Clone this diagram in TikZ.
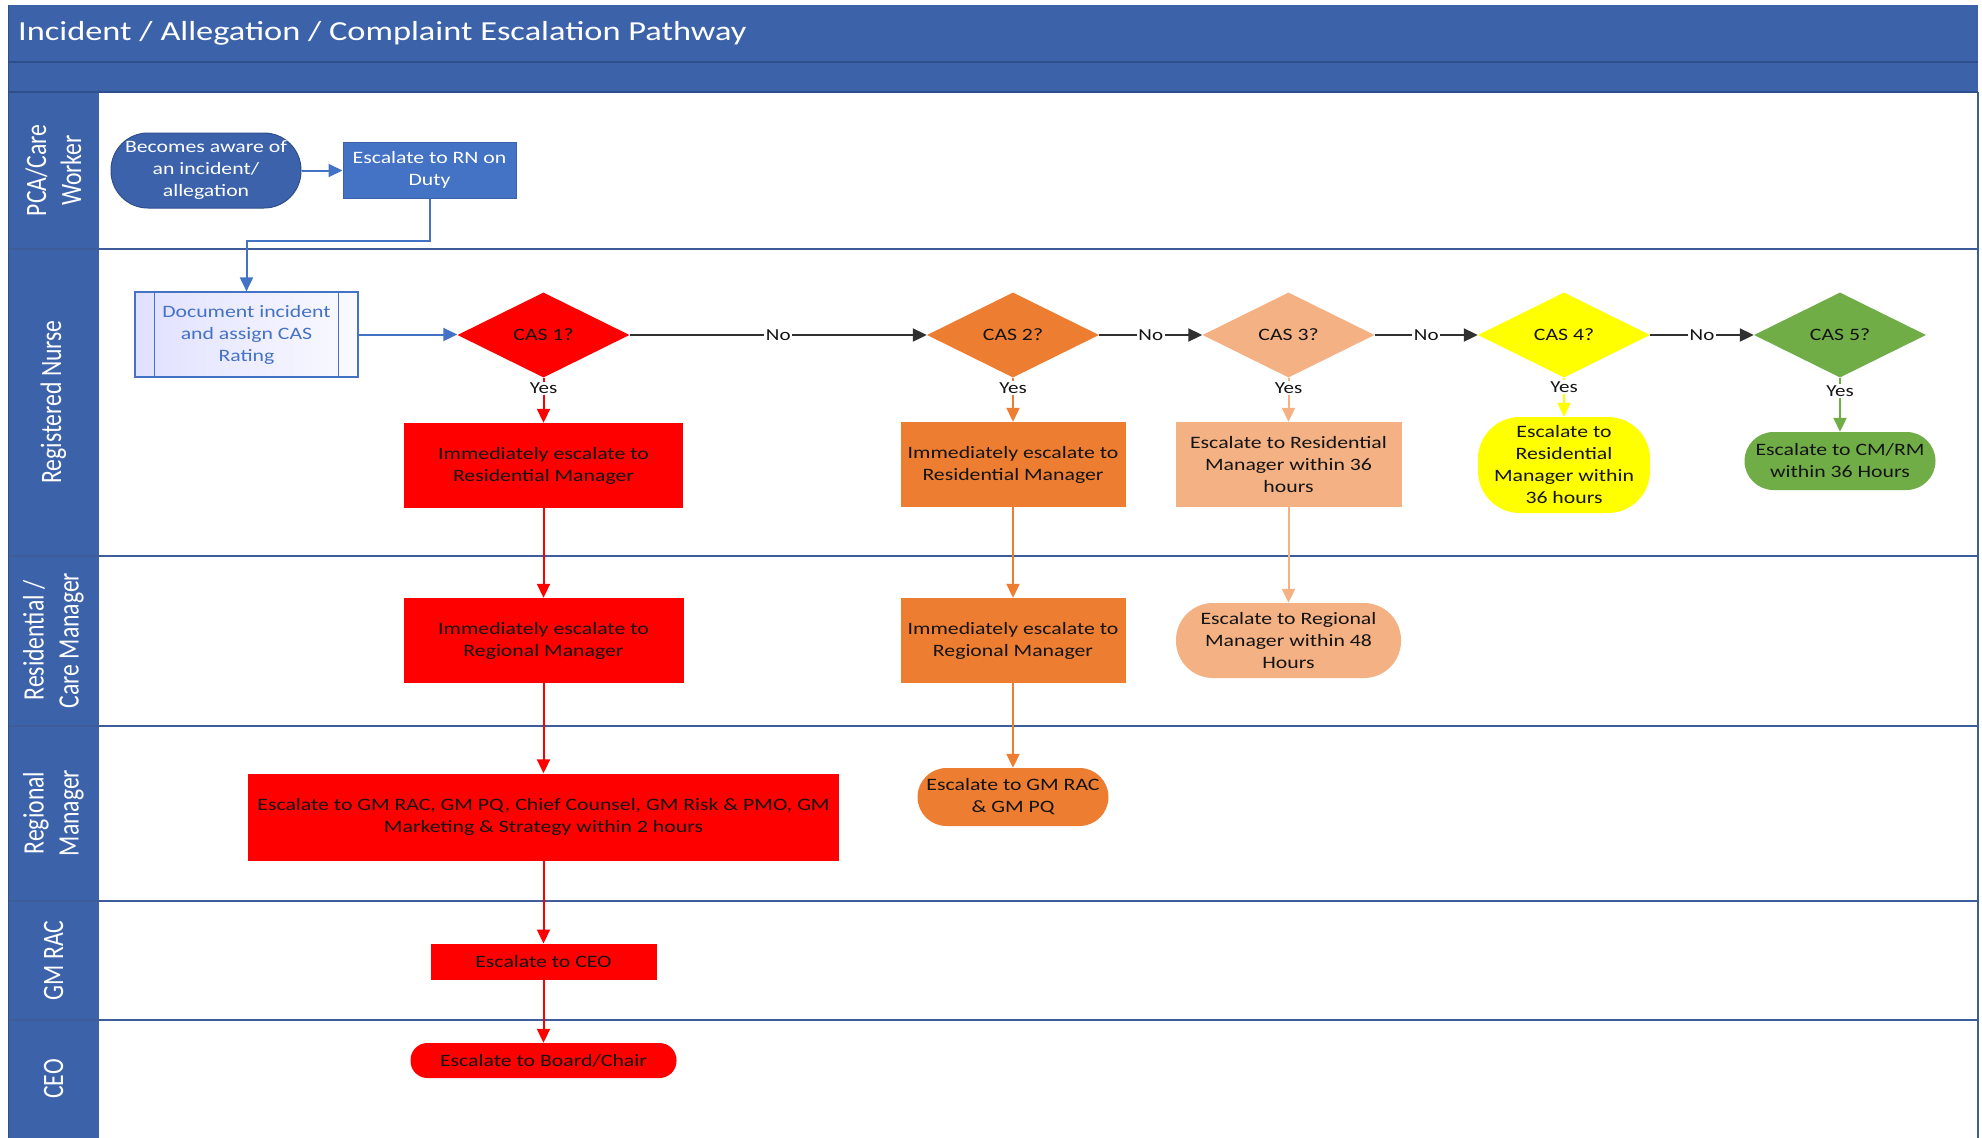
\documentclass[tikz,border=0pt]{standalone}
\usepackage{fontspec}
\setmainfont{Carlito}[FakeStretch=1.25]
\newfontfamily\lanefont{Carlito}[FakeStretch=0.8]
\usetikzlibrary{shapes.geometric,arrows.meta}

\definecolor{hdrblue}{HTML}{3C63AA}
\definecolor{hdrline}{HTML}{2F4F8C}
\definecolor{laneline}{HTML}{3E5C9A}
\definecolor{accblue}{HTML}{4472C4}
\definecolor{termblue}{HTML}{3B62AB}
\definecolor{casred}{HTML}{FF0000}
\definecolor{casorange}{HTML}{ED7D31}
\definecolor{caspeach}{HTML}{F4B183}
\definecolor{casyellow}{HTML}{FFFF00}
\definecolor{casgreen}{HTML}{70AD47}
\definecolor{inktext}{HTML}{141414}
\definecolor{flowline}{HTML}{303030}

\tikzset{
  boxtext/.style={font=\fontsize{17.4}{22}\selectfont, text=inktext, align=center, inner sep=0pt},
  flowbox/.style={boxtext, rectangle, fill=#1},
  termbox/.style={boxtext, rectangle, fill=#1},
  decision/.style={boxtext, diamond, fill=#1, minimum width=172pt, minimum height=85pt},
  lanelabel/.style={text=white, rotate=90, align=center, inner sep=0pt,
    font=\lanefont\fontsize{29.6}{35}\selectfont},
  link/.style={line width=2pt, -{Triangle[length=14pt,width=13pt]}},
  nolabel/.style={fill=white, inner sep=1.5pt, text=inktext,
    font=\fontsize{16.8}{20}\selectfont},
  yeslabel/.style={nolabel, pos=0.24},
}

\begin{document}
\begin{tikzpicture}[x=1pt, y=-1pt]
\useasboundingbox (0,0) rectangle (1982,1138);
\fill[white] (0,0) rectangle (1982,1138);

% swimlane frame: title band, sub band, label column
\fill[hdrblue] (8,5) rectangle (1978,92);
\fill[hdrblue] (8,92) rectangle (98.5,1138);
\draw[hdrline, line width=1.5pt] (8,62) -- (1978,62);
\draw[hdrline, line width=2pt] (8,92) -- (1978,92);
\foreach \ly in {249,556,725.5,901,1020}
  \draw[laneline, line width=2pt] (8,\ly) -- (1978,\ly);
\draw[laneline, line width=1.5pt] (1978,92) -- (1978,1138);
\draw[hdrline, line width=0.8pt] (8,5) -- (8,1138);

\node[anchor=west, text=white, inner sep=0pt, font=\fontsize{27.5}{32}\selectfont]
  (title) at (18,33) {Incident / Allegation / Complaint Escalation Pathway};

% lane names
\node[lanelabel] (lanepca) at (53.5,170.5) {PCA/Care\\Worker};
\node[lanelabel] (lanern)  at (53.5,402)   {Registered Nurse};
\node[lanelabel] (lanerm)  at (53.5,640.5) {Residential /\\Care Manager};
\node[lanelabel] (lanereg) at (53.5,813)   {Regional\\Manager};
\node[lanelabel] (lanegm)  at (53.5,960.5) {GM RAC};
\node[lanelabel] (laneceo) at (53.5,1079)  {CEO};

% PCA / care worker
\node[termbox=termblue, draw=hdrline, line width=1pt, text=white, rounded corners=37pt,
  minimum width=190pt, minimum height=75pt] (aware) at (206,170.5)
  {Becomes aware of\\an incident/\\allegation};
\node[flowbox=accblue, draw=termblue, line width=1pt, text=white,
  minimum width=173pt, minimum height=56pt] (rn) at (429.5,170) {Escalate to RN on\\Duty};

% registered nurse
\node[boxtext, rectangle, draw=accblue, line width=1.2pt, text=accblue,
  left color=blue!12!white, right color=blue!2!white,
  minimum width=223pt, minimum height=85pt] (doc) at (246.5,334.5)
  {Document incident\\and assign CAS\\Rating};
\draw[accblue, line width=1.2pt] ([xshift=20pt]doc.north west) -- ([xshift=20pt]doc.south west);
\draw[accblue, line width=1.2pt] ([xshift=-20pt]doc.north east) -- ([xshift=-20pt]doc.south east);

\node[decision=casred]    (cas1) at (543.5,335) {CAS 1?};
\node[decision=casorange] (cas2) at (1013,335)  {CAS 2?};
\node[decision=caspeach]  (cas3) at (1288.5,335){CAS 3?};
\node[decision=casyellow] (cas4) at (1564,335)  {CAS 4?};
\node[decision=casgreen]  (cas5) at (1840,335)  {CAS 5?};

\node[flowbox=casred, minimum width=279pt, minimum height=85pt] (red1) at (543.5,465.5)
  {Immediately escalate to\\Residential Manager};
\node[flowbox=casorange, minimum width=225pt, minimum height=85pt] (org1) at (1013,464.5)
  {Immediately escalate to\\Residential Manager};
\node[flowbox=caspeach, minimum width=226pt, minimum height=85pt] (pch1) at (1288.5,464.5)
  {Escalate to Residential\\Manager within 36\\hours};
\node[termbox=casyellow, rounded corners=42pt, minimum width=172pt, minimum height=96pt]
  (yel1) at (1564,465) {Escalate to\\Residential\\Manager within\\36 hours};
\node[termbox=casgreen, rounded corners=29pt, minimum width=191pt, minimum height=58pt]
  (grn1) at (1840,461) {Escalate to CM/RM\\within 36 Hours};

% residential / care manager
\node[flowbox=casred, minimum width=280pt, minimum height=85pt] (red2) at (543.5,640.5)
  {Immediately escalate to\\Regional Manager};
\node[flowbox=casorange, minimum width=225pt, minimum height=85pt] (org2) at (1013,640.5)
  {Immediately escalate to\\Regional Manager};
\node[termbox=caspeach, rounded corners=37pt, minimum width=225pt, minimum height=75pt]
  (pch2) at (1288.5,640.5) {Escalate to Regional\\Manager within 48\\Hours};

% regional manager
\node[flowbox=casred, minimum width=591pt, minimum height=87pt] (red3) at (543.5,817)
  {Escalate to GM RAC, GM PQ, Chief Counsel, GM Risk \& PMO, GM\\Marketing \& Strategy within 2 hours};
\node[termbox=casorange, rounded corners=29pt, minimum width=191pt, minimum height=58pt]
  (org3) at (1013,797) {Escalate to GM RAC\\\& GM PQ};

% GM RAC and CEO
\node[flowbox=casred, minimum width=226pt, minimum height=36pt] (red4) at (543.5,961.7)
  {Escalate to CEO};
\node[termbox=casred, rounded corners=17pt, minimum width=266pt, minimum height=35pt]
  (red5) at (543.5,1060.5) {Escalate to Board/Chair};

% connectors
\draw[link, accblue] (aware.east) -- (aware.east -| rn.west);
\draw[link, accblue] (rn.south) -- ++(0,42) -| (doc.north);
\draw[link, accblue] (doc.east) -- (doc.east -| cas1.west);

\draw[link, flowline] (cas1.east) -- node[nolabel] {No} (cas2.west);
\draw[link, flowline] (cas2.east) -- node[nolabel] {No} (cas3.west);
\draw[link, flowline] (cas3.east) -- node[nolabel] {No} (cas4.west);
\draw[link, flowline] (cas4.east) -- node[nolabel] {No} (cas5.west);

\draw[link, casred]    (cas1.south) -- node[yeslabel] {Yes} (red1.north);
\draw[link, casorange] (cas2.south) -- node[yeslabel] {Yes} (org1.north);
\draw[link, caspeach]  (cas3.south) -- node[yeslabel] {Yes} (pch1.north);
\draw[link, casyellow] (cas4.south) -- node[yeslabel] {Yes} (yel1.north);
\draw[link, casgreen]  (cas5.south) -- node[yeslabel] {Yes} (grn1.north);

\draw[link, casred] (red1.south) -- (red2.north);
\draw[link, casred] (red2.south) -- (red3.north);
\draw[link, casred] (red3.south) -- (red4.north);
\draw[link, casred] (red4.south) -- (red5.north);

\draw[link, casorange] (org1.south) -- (org2.north);
\draw[link, casorange] (org2.south) -- (org3.north);

\draw[link, caspeach] (pch1.south) -- (pch2.north);
\end{tikzpicture}
\end{document}
